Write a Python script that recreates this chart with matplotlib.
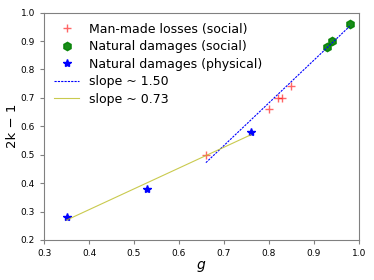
import matplotlib
matplotlib.use('Agg')
import matplotlib.pyplot as plt

# data
manmade_g = [0.66, 0.80, 0.82, 0.83, 0.85]
manmade_k = [0.50, 0.66, 0.70, 0.70, 0.74]

natsoc_g = [0.93, 0.94, 0.98]
natsoc_k = [0.88, 0.90, 0.96]

natphys_g = [0.35, 0.53, 0.76]
natphys_k = [0.28, 0.38, 0.58]

# fitted lines (end points)
fit_hi_g = [0.66, 0.98]
fit_hi_k = [0.472, 0.952]
fit_lo_g = [0.35, 0.76]
fit_lo_k = [0.27, 0.57]

fig = plt.figure(figsize=(3.74, 2.8), dpi=100)
ax = fig.add_axes([0.118, 0.143, 0.841, 0.812])

ax.plot(manmade_g, manmade_k, '+', color='red', alpha=0.6, ms=6, mew=1,
        label='Man-made losses (social)')
ax.plot(natsoc_g, natsoc_k, 'h', color='green', alpha=0.9, ms=6,
        label='Natural damages (social)')
ax.plot(natphys_g, natphys_k, '*', color='blue', ms=6,
        label='Natural damages (physical)')
ax.plot(fit_hi_g, fit_hi_k, '--', color='blue', lw=0.8, dashes=(2, 1),
        label='slope ~ 1.50')
ax.plot(fit_lo_g, fit_lo_k, '-', color='tab:olive', alpha=0.8, lw=0.8,
        label='slope ~ 0.73')

ax.set_xlim(0.3, 1.0)
ax.set_ylim(0.2, 1.0)
ax.tick_params(labelsize=6.5, colors='black', length=3)
ax.tick_params(color='gray')
for s in ax.spines.values():
    s.set_color('gray')

ax.set_xlabel('$g$', fontsize=10, labelpad=0.5)
ax.set_ylabel('2k \u2212 1', fontsize=9.5, labelpad=1.5)

ax.legend(loc='upper left', frameon=False, fontsize=9, handlelength=2.0,
          labelspacing=0.36, borderaxespad=0.4)

fig.savefig('out.png', dpi=100)
